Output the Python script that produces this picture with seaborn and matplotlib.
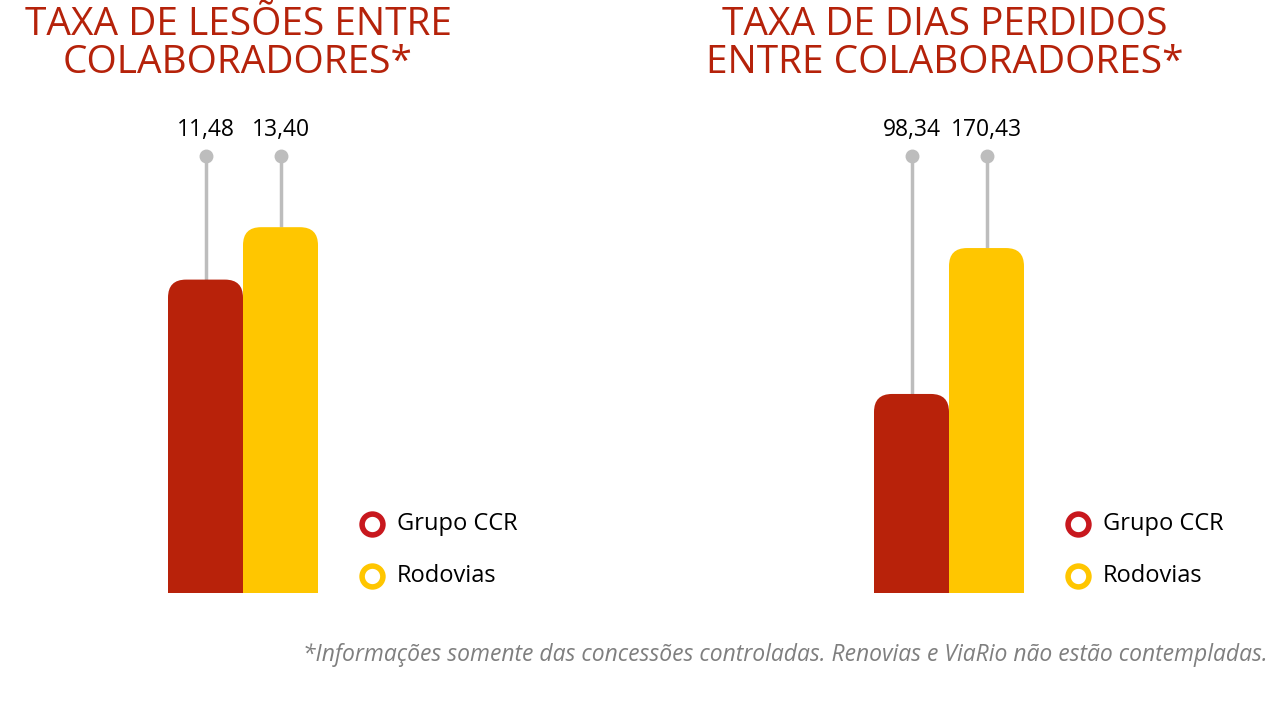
import matplotlib
matplotlib.use("Agg")
import matplotlib.pyplot as plt
import seaborn as sns
import pandas as pd
from matplotlib.patches import FancyBboxPatch, Rectangle
from matplotlib.lines import Line2D

sns.set_theme(style="white")
plt.rcParams['font.family'] = ['Open Sans', 'DejaVu Sans']

series = ["Grupo CCR", "Rodovias"]
lesoes = [11.48, 13.40]
dias = [98.34, 170.43]
labels_lesoes = ["11,48", "13,40"]
labels_dias = ["98,34", "170,43"]
titles = ["TAXA DE LESÕES ENTRE\nCOLABORADORES*", "TAXA DE DIAS PERDIDOS\nENTRE COLABORADORES*"]
footnote = "*Informações somente das concessões controladas. Renovias e ViaRio não estão contempladas."
colors = ["#B8220A", "#FFC600"]
legend_colors = ["#C8181E", "#FFC600"]

W, H = 1270, 725
fig = plt.figure(figsize=(W/100, H/100), dpi=100)

def px_axes(l, r, top, bottom):
    return fig.add_axes([l/W, 1-bottom/H, (r-l)/W, (bottom-top)/H])

panels = [
    dict(l=130, r=600, center=243, vals=lesoes, labs=labels_lesoes, ppu=27.3, title=titles[0], tx=238, legx=372),
    dict(l=836, r=1270, center=949, vals=dias, labs=labels_dias, ppu=2.024, title=titles[1], tx=945, legx=1078),
]
top, base = 100, 593
for p in panels:
    ax = px_axes(p["l"], p["r"], top, base)
    df = pd.DataFrame({"cat": ["a", "a"], "serie": series, "v": p["vals"]})
    sns.barplot(data=df, x="cat", y="v", hue="serie", palette=colors, ax=ax,
                width=0.8, legend=False, saturation=1)
    xppu = 187.5
    ax.set_xlim(-(p["center"]-p["l"])/xppu, (p["r"]-p["center"])/xppu)
    ax.set_ylim(0, (base-top)/p["ppu"])
    ax.axis("off")
    patches = list(ax.patches)
    rpx = 18
    for i, b in enumerate(patches):
        x, w, h = b.get_x(), b.get_width(), b.get_height()
        c = b.get_facecolor()
        b.remove()
        rx = rpx/xppu; ry = rpx/p["ppu"]
        ax.add_patch(FancyBboxPatch((x, 0), w, h,
                     boxstyle=f"round,pad=0,rounding_size={rx}",
                     mutation_aspect=ry/rx, fc=c, ec="none", lw=0))
        ax.add_patch(Rectangle((x, 0), w, h-ry, fc=c, ec="none", lw=0))
        cx = x + w/2
        stem_top = (base-156)/p["ppu"]
        ax.plot([cx, cx], [h, stem_top], color="#BDBDBD", lw=2.5, zorder=0, solid_capstyle="butt")
        ax.plot([cx], [stem_top], "o", color="#BDBDBD", ms=9, clip_on=False)
        ax.text(cx, (base-130)/p["ppu"], p["labs"][i], ha="center", va="center",
                fontsize=16.5, color="black", clip_on=False)
    fig.text(p["tx"]/W, 1-44/H, p["title"], ha="center", va="center", color="#B5220A",
             fontsize=28, linespacing=1.0)
    for j, (s, lc) in enumerate(zip(series, legend_colors)):
        yy = 524 + 52*j
        fig.add_artist(Line2D([p["legx"]/W], [1-yy/H], marker="o", ms=15, mfc="white",
                              mec=lc, mew=4, ls="none"))
        fig.text((p["legx"]+25)/W, 1-yy/H, s, ha="left", va="center", fontsize=17, color="black")

fig.text(1268/W, 1-655/H, footnote, ha="right", va="center", fontsize=16.5,
         color="#7F7F7F", style="italic")
fig.savefig("out.png", dpi=100, facecolor="white")
